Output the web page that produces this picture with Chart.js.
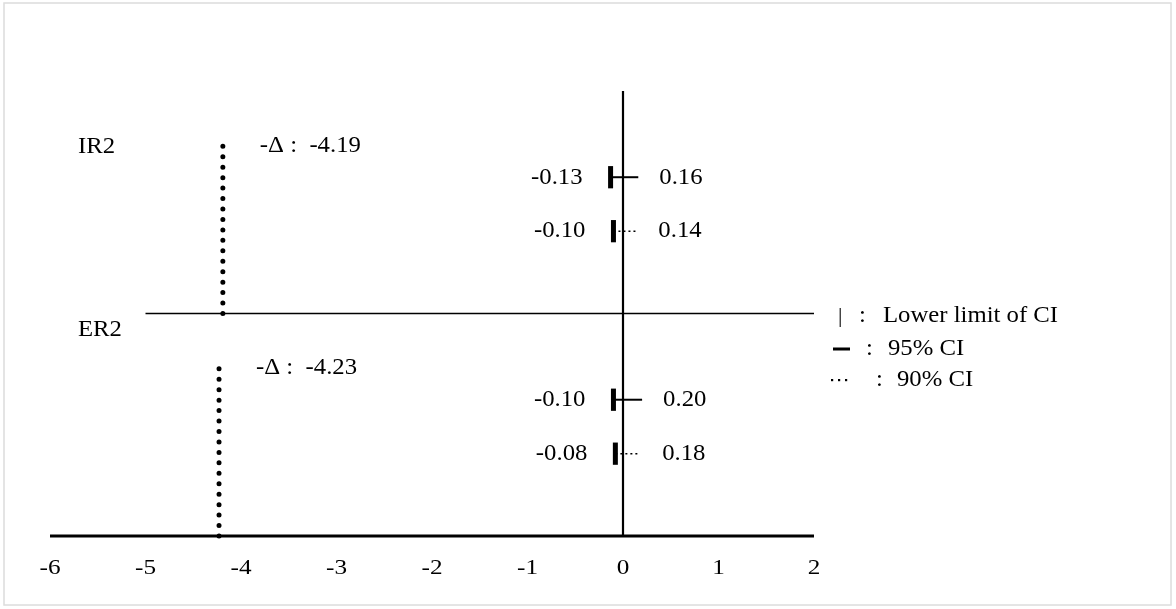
<!DOCTYPE html>
<html>
<head>
<meta charset="utf-8">
<script src="https://cdn.jsdelivr.net/npm/chart.js@4.4.1/dist/chart.umd.min.js"></script>
<style>
  html, body { margin: 0; padding: 0; background: #fff; }
  #wrap { width: 1176px; height: 609px; }
</style>
</head>
<body>
<div id="wrap"><canvas id="c" width="1176" height="609"></canvas></div>
<script>
// ---- data ----
const tickValues = [-6, -5, -4, -3, -2, -1, 0, 1, 2];
const groups = ['IR2', 'ER2'];
const deltaValues = [-4.19, -4.23];
const ci95Lower = [-0.13, -0.10];
const ci95Upper = [0.16, 0.20];
const ci90Lower = [-0.10, -0.08];
const ci90Upper = [0.14, 0.18];
const legendLabels = ['Lower limit of CI', '95% CI', '90% CI'];

// ---- layout (row positions on the vertical value scale) ----
const groupBase = [4, 0];
const row95Off = 2.45, row90Off = 1.48, deltaTopOff = 3.02, barHalf = 0.2;
const groupLabelY = [7.0, 3.7];
const FONT = '"Liberation Serif", "Times New Roman", serif';

const datasets = [];
const line = (pts, opts) => Object.assign({
  data: pts, showLine: true, pointRadius: 0, borderColor: '#000', borderWidth: 2, clip: false, fill: false
}, opts);

// axes drawn as data lines
datasets.push(line([{x: tickValues[0], y: 0}, {x: tickValues[tickValues.length - 1], y: 0}], {borderWidth: 3}));
datasets.push(line([{x: 0, y: 0}, {x: 0, y: 8}], {borderWidth: 2.2}));
datasets.push(line([{x: -5, y: 4}, {x: 2, y: 4}], {borderWidth: 1.5}));

groups.forEach((g, i) => {
  const b = groupBase[i];
  // -delta dotted line
  datasets.push(line([{x: deltaValues[i], y: b}, {x: deltaValues[i], y: b + deltaTopOff}],
    {borderWidth: 5, borderDash: [0, 10.45], borderCapStyle: 'round'}));
  // 95% CI
  const y95 = b + row95Off;
  datasets.push(line([{x: ci95Lower[i], y: y95}, {x: ci95Upper[i], y: y95}], {borderWidth: 2}));
  datasets.push(line([{x: ci95Lower[i], y: y95 - barHalf}, {x: ci95Lower[i], y: y95 + barHalf}], {borderWidth: 5}));
  // 90% CI
  const y90 = b + row90Off;
  datasets.push(line([{x: ci90Lower[i], y: y90}, {x: ci90Upper[i], y: y90}], {borderWidth: 1.6, borderDash: [2, 3]}));
  datasets.push(line([{x: ci90Lower[i], y: y90 - barHalf}, {x: ci90Lower[i], y: y90 + barHalf}], {borderWidth: 5}));
});

function txt(ctx, s, x, y, align, size, sx) {
  ctx.save();
  ctx.translate(x, y);
  ctx.scale(sx || 1, 1);
  ctx.font = size + 'px ' + FONT;
  ctx.textAlign = align;
  ctx.textBaseline = 'middle';
  ctx.fillText(s, 0, 0);
  ctx.restore();
}

const textPlugin = {
  id: 'texts',
  beforeDraw(chart) {
    const ctx = chart.ctx;
    ctx.save();
    ctx.strokeStyle = '#dcdcdc';
    ctx.lineWidth = 1.5;
    ctx.strokeRect(4, 3, 1167, 602);
    ctx.restore();
  },
  afterDraw(chart) {
    const ctx = chart.ctx;
    const xs = chart.scales.x, ys = chart.scales.y;
    ctx.save();
    ctx.fillStyle = '#000';
    const S = 24, SX = 1.03;
    // x tick labels
    tickValues.forEach(v => txt(ctx, String(v), xs.getPixelForValue(v), ys.getPixelForValue(0) + 32, 'center', 21, 1.2));

    groups.forEach((g, i) => {
      const b = groupBase[i];
      txt(ctx, g, 78, ys.getPixelForValue(groupLabelY[i]), 'left', S, SX);
      txt(ctx, '-\u0394 :  ' + deltaValues[i].toFixed(2), xs.getPixelForValue(deltaValues[i]) + 37, ys.getPixelForValue(b + deltaTopOff), 'left', S, SX);
      const y95 = ys.getPixelForValue(b + row95Off);
      const y90 = ys.getPixelForValue(b + row90Off);
      txt(ctx, ci95Lower[i].toFixed(2), xs.getPixelForValue(ci95Lower[i]) - 28, y95, 'right', S, SX);
      txt(ctx, ci90Lower[i].toFixed(2), xs.getPixelForValue(ci90Lower[i]) - 28, y90, 'right', S, SX);
      txt(ctx, ci95Upper[i].toFixed(2), xs.getPixelForValue(ci95Upper[i]) + 21, y95, 'left', S, SX);
      txt(ctx, ci90Upper[i].toFixed(2), xs.getPixelForValue(ci90Upper[i]) + 22, y90, 'left', S, SX);
    });

    // legend
    const ly = [316, 349, 380];
    txt(ctx, '|', 838, ly[0], 'left', 22, 1);
    txt(ctx, ':', 859, ly[0], 'left', S, SX);
    txt(ctx, legendLabels[0], 883, ly[0], 'left', S, SX);
    ctx.fillRect(833, ly[1] - 1.5, 17, 3);
    txt(ctx, ':', 866, ly[1], 'left', S, SX);
    txt(ctx, legendLabels[1], 888, ly[1], 'left', S, SX);
    for (let k = 0; k < 3; k++) ctx.fillRect(831 + k * 7, ly[2] - 1, 2.2, 2.2);
    txt(ctx, ':', 876, ly[2], 'left', S, SX);
    txt(ctx, legendLabels[2], 897, ly[2], 'left', S, SX);
    ctx.restore();
  }
};

new Chart(document.getElementById('c'), {
  type: 'scatter',
  data: { datasets },
  options: {
    responsive: false,
    animation: false,
    layout: { padding: { left: 50, right: 362, top: 91, bottom: 73 } },
    plugins: { legend: { display: false }, tooltip: { enabled: false } },
    scales: {
      x: { type: 'linear', min: -6, max: 2, display: false },
      y: { type: 'linear', min: 0, max: 8, display: false }
    }
  },
  plugins: [textPlugin]
});
</script>
</body>
</html>
